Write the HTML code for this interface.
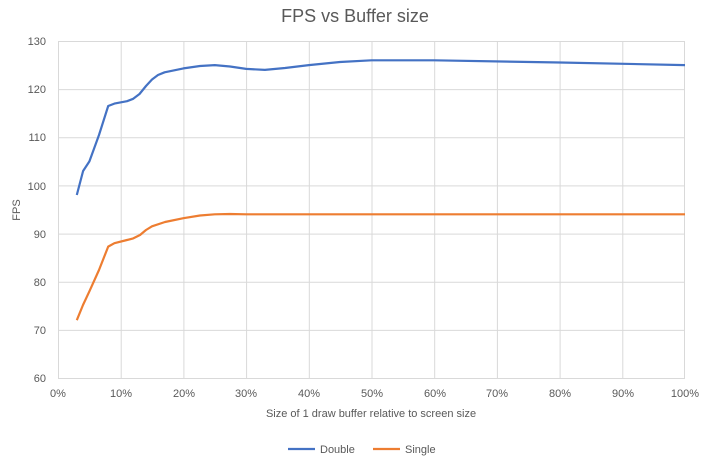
<!DOCTYPE html>
<html><head><style>body{margin:0;background:#fff}</style></head><body>
<svg width="710" height="466" xmlns="http://www.w3.org/2000/svg" font-family="Liberation Sans, sans-serif" fill="#595959">
<rect width="710" height="466" fill="#fff"/>
<text x="355" y="22" font-size="18" text-anchor="middle">FPS vs Buffer size</text>
<g stroke="#d9d9d9" stroke-width="1">
<line x1="58" y1="41.5" x2="685" y2="41.5"/><line x1="58" y1="89.6" x2="685" y2="89.6"/><line x1="58" y1="137.8" x2="685" y2="137.8"/><line x1="58" y1="185.9" x2="685" y2="185.9"/><line x1="58" y1="234.1" x2="685" y2="234.1"/><line x1="58" y1="282.2" x2="685" y2="282.2"/><line x1="58" y1="330.4" x2="685" y2="330.4"/><line x1="58" y1="378.5" x2="685" y2="378.5"/>
<line x1="58.5" y1="41" x2="58.5" y2="378"/><line x1="121.2" y1="41" x2="121.2" y2="378"/><line x1="183.9" y1="41" x2="183.9" y2="378"/><line x1="246.6" y1="41" x2="246.6" y2="378"/><line x1="309.3" y1="41" x2="309.3" y2="378"/><line x1="372" y1="41" x2="372" y2="378"/><line x1="434.7" y1="41" x2="434.7" y2="378"/><line x1="497.4" y1="41" x2="497.4" y2="378"/><line x1="560.1" y1="41" x2="560.1" y2="378"/><line x1="622.8" y1="41" x2="622.8" y2="378"/><line x1="684.5" y1="41" x2="684.5" y2="378"/>
</g>
<g font-size="11" text-anchor="end">
<text x="46" y="45">130</text><text x="46" y="93">120</text><text x="46" y="141">110</text><text x="46" y="190">100</text><text x="46" y="238">90</text><text x="46" y="286">80</text><text x="46" y="334">70</text><text x="46" y="382">60</text>
</g>
<g font-size="11" text-anchor="middle">
<text x="58" y="397">0%</text><text x="121" y="397">10%</text><text x="184" y="397">20%</text><text x="246" y="397">30%</text><text x="309" y="397">40%</text><text x="372" y="397">50%</text><text x="435" y="397">60%</text><text x="497" y="397">70%</text><text x="560" y="397">80%</text><text x="623" y="397">90%</text><text x="685" y="397">100%</text>
<text x="371" y="417">Size of 1 draw buffer relative to screen size</text>
</g>
<text transform="translate(20,210) rotate(-90)" font-size="11" text-anchor="middle">FPS</text>
<polyline fill="none" stroke="#4472c4" stroke-width="2.2" stroke-linejoin="round" points="76.8,195 83.1,171 89.4,161.4 99,135 108.2,106 114.4,103.6 127,101.2 133.2,98.8 139.5,94 146,86 152,79.5 158,75 164.6,72.3 183.4,68.4 200,66 214.8,65.1 230,66.5 246.1,68.9 264.9,69.9 285,68 308.8,65.1 340,62 371.5,60.3 434.2,60.3 560,62.5 685,65.1"/>
<polyline fill="none" stroke="#ed7d31" stroke-width="2.2" stroke-linejoin="round" points="76.8,320.2 83,305 89.4,291.3 99,270 108.2,246.6 114.4,243.2 127,240 133.2,238.4 140,235 146,230 152,226.3 165,222 183.4,218.2 200,215.5 214.8,214.3 230,214 246.1,214.3 685,214.3"/>
<line x1="288" y1="449" x2="315" y2="449" stroke="#4472c4" stroke-width="2.2"/>
<text x="320" y="453" font-size="11">Double</text>
<line x1="373" y1="449" x2="400" y2="449" stroke="#ed7d31" stroke-width="2.2"/>
<text x="405" y="453" font-size="11">Single</text>
</svg>
</body></html>
